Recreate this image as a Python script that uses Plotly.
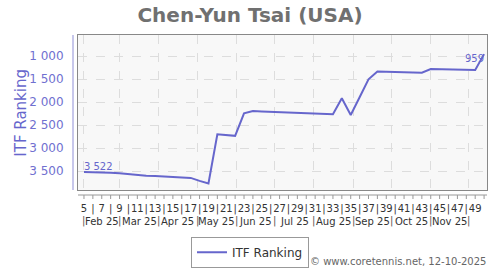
import plotly.graph_objects as go
import pandas as pd

# ---------------- data ----------------
weeks = list(range(5, 51))
ranking = [3522, 3525, 3530, 3540, 3550, 3570, 3595, 3605, 3610, 3620, 3630, 3645, 3650, 3715, 3770,
           2700, 2715, 2735, 2246, 2196, 2205, 2212, 2220, 2228, 2236, 2244, 2252, 2260, 2268,
           1920, 2283, 1895, 1507, 1335, 1340, 1345, 1350, 1355, 1362,
           1283, 1290, 1295, 1300, 1302, 1304, 959]
first_date = "2025-02-01"
month_labels = ["Feb 25", "Mar 25", "Apr 25", "May 25", "Jun 25", "Jul 25",
                "Aug 25", "Sep 25", "Oct 25", "Nov 25"]
y_ticks = [1000, 1500, 2000, 2500, 3000, 3500]
y_tick_text = ["1 000", "1 500", "2 000", "2 500", "3 000", "3 500"]
title_text = "Chen-Yun Tsai (USA)"
series_name = "ITF Ranking"
footer = "© www.coretennis.net, 12-10-2025"

# ---------------- derived ----------------
dates = pd.date_range(first_date, periods=len(weeks), freq="7D")
month_starts = pd.date_range("2025-02-01", "2025-12-01", freq="MS")
month_mids = [month_starts[i] + (month_starts[i + 1] - month_starts[i]) / 2 for i in range(len(month_labels))]

def fmt(v):
    return f"{v:,}".replace(",", " ")

text = [""] * len(ranking)
text[0] = fmt(ranking[0])
text[-1] = fmt(ranking[-1])
textpos = ["top right"] + ["top center"] * (len(ranking) - 2) + ["bottom left"]

tick_vals = [d for w, d in zip(weeks, dates) if w <= 49]
tick_text = [str(w) if w % 2 == 1 else "|" for w in weeks if w <= 49]

H = 270
PW, PH = 409, 155  # plot area size in px

fig = go.Figure()
fig.add_trace(go.Scatter(
    x=dates, y=ranking, mode="lines+text", name=series_name,
    line=dict(color="#6666cc", width=2),
    text=text, textposition=textpos,
    textfont=dict(size=10, color="#6666cc", family="DejaVu Sans"),
    hoverinfo="skip", cliponaxis=False,
))

shapes = []
# offset y axis line
shapes.append(dict(type="line", xref="paper", yref="paper", x0=-5 / PW, x1=-5 / PW, y0=0, y1=1,
                   line=dict(color="#b4b4e4", width=1.5)))
# offset x axis line with weekly ticks
shapes.append(dict(type="line", xref="paper", yref="paper", x0=0, x1=1, y0=-5 / PH, y1=-5 / PH,
                   line=dict(color="#999999", width=1)))
for d in dates:
    shapes.append(dict(type="line", xref="x", yref="paper", x0=d, x1=d, y0=-5 / PH, y1=-9 / PH,
                       line=dict(color="#999999", width=1)))

annotations = []
for d in month_starts:
    annotations.append(dict(x=d, y=-31 / PH, xref="x", yref="paper", text="|", showarrow=False,
                            xanchor="center", yanchor="middle",
                            font=dict(size=10, color="#555", family="DejaVu Sans")))
for d, lab in zip(month_mids, month_labels):
    annotations.append(dict(x=d, y=-31 / PH, xref="x", yref="paper", text=lab, showarrow=False,
                            xanchor="center", yanchor="middle",
                            font=dict(size=10, color="#333", family="DejaVu Sans")))
annotations.append(dict(x=1 + 1 / PW, y=-71.7 / PH, xref="paper", yref="paper", text=footer,
                        showarrow=False, xanchor="right", yanchor="middle",
                        font=dict(size=10, color="#666", family="DejaVu Sans")))
annotations.append(dict(x=(20.7 - 78) / PW, y=(190 - 113) / PH, xref="paper", yref="paper",
                        text=series_name, showarrow=False, textangle=-90,
                        xanchor="center", yanchor="middle",
                        font=dict(size=15, color="#6666cc", family="DejaVu Sans")))

fig.update_layout(
    width=500, height=H,
    margin=dict(l=78, r=13, t=35, b=80, autoexpand=False),
    paper_bgcolor="white", plot_bgcolor="#f8f8f8",
    font=dict(family="DejaVu Sans", color="#333"),
    title=dict(text="<b>" + title_text + "</b>", x=0.5, xanchor="center",
               y=1 - 15 / H, yanchor="middle", yref="container",
               font=dict(size=20, color="#707070", family="DejaVu Sans")),
    xaxis=dict(type="date", range=["2025-01-27 07:00", "2025-12-15 07:00"], automargin=False,
               tickmode="array", tickvals=tick_vals, ticktext=tick_text, tickangle=0,
               ticks="", showgrid=False, zeroline=False,
               showline=True, mirror=True, linecolor="#888", linewidth=1,
               tickfont=dict(size=10, color="#333"), ticklabelstandoff=9,
               minor=dict(tickvals=list(month_starts), showgrid=True, gridcolor="#dddddd",
                          griddash="dash", gridwidth=1, ticks="")),
    yaxis=dict(range=[3913, 543], automargin=False, tickmode="array", tickvals=y_ticks,
               ticktext=y_tick_text,
               showgrid=True, gridcolor="#dddddd", griddash="dash", gridwidth=1, zeroline=False,
               showline=True, mirror=True, linecolor="#888", linewidth=1, ticks="",
               tickfont=dict(size=12, color="#7070d0"), ticklabelstandoff=11),
    showlegend=True,
    legend=dict(orientation="h", x=0.5, xanchor="center", xref="container",
                y=1 - 236.7 / H, yanchor="top", yref="container",
                bordercolor="#999", borderwidth=1, bgcolor="white",
                font=dict(size=12, color="#333")),
    shapes=shapes, annotations=annotations,
)

fig.write_html("out.html")
